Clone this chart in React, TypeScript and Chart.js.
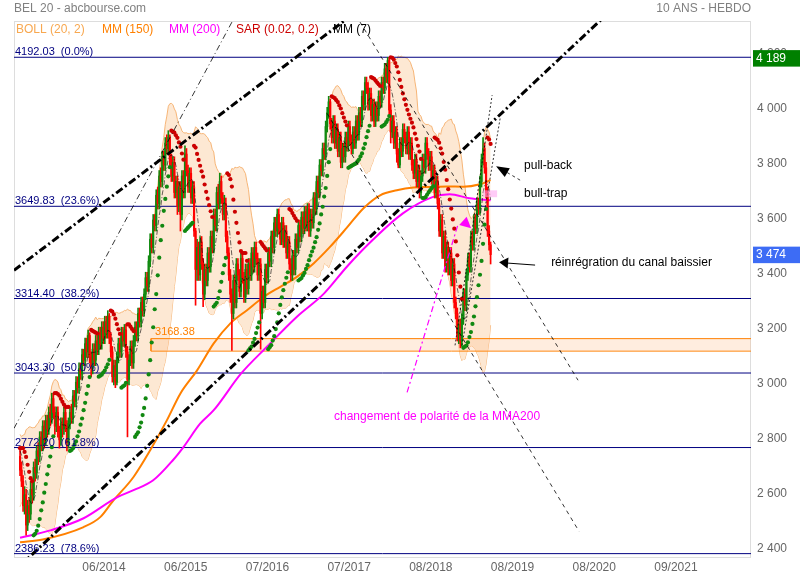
import React, { useEffect, useRef } from "react";
import { Chart, registerables } from "chart.js";
Chart.register(...registerables);

const FONT = '"Liberation Sans", Arial, Helvetica, sans-serif';

// ---- weekly data (index 0 = mid-May 2013) ----
const firstOpen = 2740;
const closesBefore = [2560, 2600, 2630, 2650, 2640, 2620, 2660, 2700, 2690, 2660, 2640, 2680, 2720, 2760, 2790, 2810, 2780, 2750, 2740];
const closes = [
  2690, 2650, 2560, 2600, 2490, 2560, 2530, 2620, 2600, 2700,
  2680, 2760, 2740, 2810, 2780, 2850, 2800, 2870, 2840, 2900,
  2880, 2950, 2900, 2850, 2900, 2830, 2800, 2860, 2840, 2900,
  2850, 2790, 2860, 2900, 2880, 2960, 2940, 3010, 2990, 3060,
  3040, 3110, 3090, 3150, 3120, 3180, 3100, 3060, 3130, 3090,
  3160, 3130, 3190, 3150, 3210, 3170, 3230, 3190, 3250, 3170,
  3120, 3030, 3070, 3010, 3100, 3150, 3120, 3190, 3160, 3200,
  3120, 3020, 3090, 3140, 3080, 3160, 3210, 3180, 3260, 3230,
  3300, 3270, 3330, 3390, 3360, 3450, 3530, 3500, 3600, 3580,
  3690, 3660, 3760, 3740, 3830, 3800, 3880, 3860, 3900, 3820,
  3760, 3810, 3700, 3740, 3650, 3720, 3620, 3760, 3700, 3840,
  3780, 3720, 3770, 3680, 3720, 3560, 3420, 3500, 3400, 3520,
  3440, 3330, 3420, 3380, 3480, 3430, 3540, 3500, 3620, 3580,
  3700, 3660, 3740, 3680, 3620, 3660, 3540, 3480, 3400, 3330,
  3260, 3380, 3300, 3440, 3400, 3340, 3460, 3390, 3320, 3420,
  3350, 3440, 3400, 3480, 3430, 3500, 3460, 3400, 3440, 3260,
  3340, 3300, 3420, 3390, 3480, 3450, 3540, 3500, 3590, 3560,
  3620, 3570, 3530, 3590, 3520, 3560, 3480, 3520, 3440, 3400,
  3470, 3420, 3530, 3500, 3580, 3540, 3610, 3570, 3630, 3580,
  3640, 3560, 3620, 3590, 3680, 3640, 3740, 3700, 3800, 3780,
  3860, 3840, 3940, 3990, 4030, 3950, 3900, 3960, 3880, 3930,
  3850, 3900, 3810, 3860, 3830, 3900, 3870, 3940, 3890, 3860,
  3920, 3880, 3960, 3910, 3990, 3960, 4050, 4020, 4100, 4080,
  4020, 4060, 3980, 4020, 3960, 4010, 3980, 4050, 4030, 4100,
  4080, 4150, 4120, 4180, 4000, 3920, 3960, 3880, 3920, 3840,
  3800, 3880, 3850, 3930, 3900, 3860, 3920, 3840, 3880, 3800,
  3770, 3820, 3740, 3780, 3700, 3760, 3820, 3790, 3880, 3840,
  3800, 3830, 3750, 3780, 3700, 3740, 3660, 3560, 3600, 3480,
  3540, 3430, 3500, 3420, 3480, 3380, 3440, 3300, 3260, 3180,
  3220, 3160, 3240, 3330, 3290, 3400, 3460, 3430, 3540, 3510,
  3600, 3570, 3660, 3640, 3740, 3820, 3860, 3790, 3700, 3560,
  3510, 3474,
];
const highs = [
  2770, 2720, 2670, 2630, 2620, 2580, 2590, 2650, 2650, 2720,
  2730, 2780, 2790, 2830, 2830, 2870, 2870, 2890, 2890, 2920,
  2930, 2970, 2970, 2920, 2920, 2920, 2850, 2880, 2880, 2920,
  2920, 2870, 2880, 2920, 2930, 2980, 2980, 3030, 3030, 3080,
  3080, 3130, 3130, 3170, 3170, 3200, 3190, 3120, 3150, 3150,
  3180, 3180, 3210, 3210, 3230, 3230, 3250, 3250, 3270, 3260,
  3190, 3140, 3090, 3090, 3120, 3170, 3170, 3210, 3210, 3220,
  3220, 3140, 3110, 3160, 3160, 3180, 3230, 3230, 3280, 3280,
  3320, 3320, 3350, 3410, 3410, 3470, 3550, 3550, 3620, 3620,
  3710, 3720, 3780, 3790, 3850, 3850, 3900, 3910, 3925, 3910,
  3840, 3830, 3830, 3760, 3760, 3740, 3740, 3780, 3780, 3870,
  3860, 3800, 3790, 3790, 3740, 3740, 3570, 3530, 3520, 3540,
  3540, 3460, 3440, 3440, 3500, 3500, 3560, 3560, 3640, 3640,
  3720, 3730, 3770, 3760, 3700, 3690, 3680, 3560, 3500, 3420,
  3350, 3400, 3400, 3460, 3460, 3420, 3480, 3480, 3410, 3440,
  3440, 3460, 3460, 3500, 3500, 3520, 3520, 3480, 3460, 3460,
  3360, 3360, 3440, 3440, 3500, 3500, 3560, 3560, 3610, 3610,
  3640, 3640, 3590, 3610, 3610, 3580, 3580, 3540, 3540, 3460,
  3490, 3490, 3550, 3550, 3600, 3600, 3630, 3630, 3650, 3650,
  3660, 3660, 3640, 3640, 3700, 3700, 3760, 3760, 3820, 3820,
  3880, 3880, 3960, 4010, 4050, 4040, 3970, 3980, 3980, 3950,
  3950, 3920, 3920, 3880, 3880, 3920, 3920, 3960, 3960, 3910,
  3940, 3940, 3980, 3980, 4010, 4010, 4070, 4070, 4120, 4120,
  4100, 4080, 4080, 4040, 4040, 4030, 4030, 4070, 4070, 4120,
  4120, 4170, 4170, 4192, 4190, 4020, 3980, 3980, 3940, 3940,
  3860, 3900, 3900, 3950, 3950, 3920, 3940, 3940, 3900, 3900,
  3820, 3840, 3840, 3800, 3800, 3780, 3840, 3840, 3900, 3900,
  3860, 3850, 3850, 3800, 3800, 3760, 3760, 3680, 3620, 3620,
  3560, 3560, 3520, 3520, 3500, 3500, 3460, 3460, 3320, 3280,
  3240, 3240, 3260, 3350, 3350, 3420, 3480, 3480, 3560, 3560,
  3620, 3620, 3680, 3680, 3760, 3840, 3900, 3880, 3810, 3720,
  3580, 3520,
];
const lows = [
  2670, 2630, 2540, 2530, 2453, 2470, 2500, 2510, 2570, 2580,
  2650, 2660, 2710, 2720, 2760, 2760, 2770, 2780, 2810, 2820,
  2850, 2860, 2880, 2820, 2830, 2810, 2770, 2780, 2810, 2820,
  2830, 2760, 2770, 2840, 2860, 2860, 2920, 2920, 2970, 2970,
  3020, 3020, 3070, 3070, 3100, 3100, 3080, 3030, 3040, 3070,
  3070, 3110, 3110, 3130, 3130, 3150, 3150, 3170, 3170, 3150,
  3100, 3010, 3000, 2990, 3000, 3080, 3100, 3100, 3140, 3140,
  3100, 2811, 3000, 3070, 3060, 3060, 3140, 3160, 3160, 3210,
  3210, 3250, 3250, 3310, 3340, 3340, 3430, 3480, 3480, 3560,
  3560, 3640, 3640, 3720, 3720, 3780, 3780, 3840, 3840, 3800,
  3740, 3740, 3680, 3680, 3620, 3630, 3560, 3600, 3680, 3680,
  3760, 3700, 3700, 3660, 3660, 3540, 3290, 3380, 3380, 3380,
  3420, 3285, 3310, 3360, 3360, 3410, 3410, 3480, 3480, 3560,
  3560, 3640, 3640, 3660, 3600, 3600, 3520, 3460, 3380, 3300,
  3126, 3240, 3280, 3280, 3380, 3320, 3320, 3370, 3300, 3300,
  3330, 3330, 3380, 3380, 3410, 3410, 3440, 3380, 3380, 3130,
  3240, 3280, 3280, 3370, 3370, 3430, 3430, 3480, 3480, 3540,
  3540, 3550, 3510, 3510, 3500, 3500, 3460, 3460, 3420, 3380,
  3380, 3400, 3400, 3480, 3480, 3520, 3520, 3550, 3550, 3560,
  3560, 3540, 3540, 3570, 3570, 3620, 3620, 3680, 3680, 3760,
  3760, 3820, 3820, 3920, 3970, 3930, 3880, 3880, 3860, 3860,
  3830, 3830, 3790, 3790, 3810, 3810, 3850, 3850, 3870, 3840,
  3840, 3860, 3860, 3890, 3890, 3940, 3940, 4000, 4000, 4060,
  4000, 4000, 3960, 3960, 3940, 3940, 3960, 3960, 4010, 4010,
  4060, 4060, 4100, 4100, 3980, 3880, 3900, 3860, 3860, 3810,
  3790, 3790, 3830, 3830, 3880, 3840, 3840, 3820, 3820, 3780,
  3750, 3750, 3720, 3720, 3680, 3680, 3740, 3770, 3770, 3820,
  3780, 3780, 3730, 3730, 3680, 3680, 3640, 3540, 3540, 3460,
  3460, 3410, 3410, 3400, 3400, 3360, 3360, 3280, 3240, 3160,
  3150, 3135, 3140, 3220, 3270, 3270, 3380, 3410, 3410, 3490,
  3490, 3550, 3550, 3620, 3620, 3720, 3800, 3770, 3680, 3540,
  3490, 3440,
];

// moving averages MM150 / MM200 (sparse)
const mm150Idx = [0, 15, 42, 53, 61, 75, 86, 97, 106, 117, 128, 139, 150, 161, 172, 183, 194, 205, 216, 227, 238, 249, 260, 271, 282, 293, 304, 311];
const mm150Val = [2428, 2438, 2483, 2519, 2575, 2665, 2762, 2871, 2969, 3053, 3151, 3224, 3272, 3320, 3357, 3393, 3442, 3503, 3572, 3643, 3690, 3708, 3718, 3720, 3722, 3721, 3730, 3745];
const mm200Idx = [0, 20, 42, 64, 75, 88, 101, 108, 119, 128, 146, 163, 183, 201, 216, 233, 253, 273, 284, 297, 311];
const mm200Val = [2444, 2471, 2515, 2591, 2617, 2653, 2726, 2774, 2859, 2908, 3041, 3138, 3248, 3333, 3430, 3527, 3624, 3684, 3694, 3679, 3672];

// Fibonacci levels
const fibLevels = [4192.03, 3649.83, 3314.4, 3043.3, 2772.2, 2386.23];
const fibLabels = ["4192.03  (0.0%)", "3649.83  (23.6%)", "3314.40  (38.2%)", "3043.30  (50.0%)", "2772.20  (61.8%)", "2386.23  (78.6%)"];

// axes
const yTickValues = [2400, 2600, 2800, 3000, 3200, 3400, 3600, 3800, 4000, 4200];
const yTickLabels = ["2 400", "2 600", "2 800", "3 000", "3 200", "3 400", "3 600", "3 800", "4 000", "4 200"];
const xTickPositions = [55.5, 109.5, 163.5, 217.5, 271.5, 325.5, 379.5, 433.5];
const xTickLabels = ["06/2014", "06/2015", "07/2016", "07/2017", "08/2018", "08/2019", "08/2020", "09/2021"];

// support zone
const zoneStart = 86.6;
const zoneTop = 3168.38;
const zoneBottom = 3123;

// drawn trend lines [x, value] pairs
const channelUpper = [[-4, 3417], [230, 4390]];
const channelLower = [[0, 2342], [386, 4339]];
const steepLine = [[-4, 2842], [141, 4330]];
const bearLine1 = [[224.7, 4320], [368.8, 3017]];
const bearLine2 = [[202.9, 3988], [369.5, 2467]];
const wedgeLine1 = [[287.5, 3144], [312, 4054]];
const wedgeLine2 = [[292.1, 3144], [317.3, 3970]];
const polarityLine = [[255.8, 2973], [289.5, 3585]];
const pullBackLine = [[330.5, 3745], [316, 3792]];
const reinLine = [[340.4, 3436], [318, 3445]];
const pullBackHead = [[330.5, 3745], [314.6, 3796]];
const reinHead = [[340.4, 3436], [316.6, 3446]];
const polarityHead = [[291.5, 3603], [298.1, 3570]];
const bullTrapBox = [[306, 3683], [315.3, 3708]];

const notes = [
  { text: "pull-back", x: 333.1, y: 3796, color: "#000000" },
  { text: "bull-trap", x: 333.1, y: 3697, color: "#000000" },
  { text: "réinrégration du canal baissier", x: 351, y: 3444, color: "#000000" },
  { text: "changement de polarité de la MMA200", x: 207.5, y: 2883, color: "#ff00ff" },
];
const zoneLabel = { text: "3168.38", x: 89.2, y: 3192 };
const lastValue = 3474;
const highValue = 4189;

const toPts = (arr: number[][]) => arr.map((p) => ({ x: p[0], y: p[1] }));

export default function App() {
  const ref = useRef<HTMLCanvasElement>(null);
  useEffect(() => {
    const canvas = ref.current!;
    const N = closes.length;
    const opens = closes.map((c, i) => (i === 0 ? firstOpen : closes[i - 1]));
    const all = closesBefore.concat(closes);
    const off = closesBefore.length;
    const bbUp: any[] = [], bbLo: any[] = [], mm7: any[] = [];
    for (let i = 0; i < N; i++) {
      const k = i + off;
      const w = all.slice(k - 19, k + 1);
      const m = w.reduce((a, b) => a + b, 0) / w.length;
      const sd = Math.sqrt(w.reduce((a, b) => a + (b - m) * (b - m), 0) / w.length);
      bbUp.push({ x: i, y: m + 2 * sd });
      bbLo.push({ x: i, y: m - 2 * sd });
      const w7 = all.slice(k - 6, k + 1);
      mm7.push({ x: i, y: w7.reduce((a, b) => a + b, 0) / 7 });
    }
    // Parabolic SAR (0.02, 0.2)
    const sarPts: any[] = [];
    const sarCol: string[] = [];
    let up = false;
    let af = 0.02;
    let ep = lows[0];
    let s = highs[0];
    sarPts.push({ x: 0, y: s });
    sarCol.push("#cc0000");
    for (let i = 1; i < N; i++) {
      s = s + af * (ep - s);
      if (up) {
        s = Math.min(s, lows[i - 1], lows[Math.max(0, i - 2)]);
        if (lows[i] < s) { up = false; s = ep; ep = lows[i]; af = 0.02; }
        else if (highs[i] > ep) { ep = highs[i]; af = Math.min(af + 0.02, 0.2); }
      } else {
        s = Math.max(s, highs[i - 1], highs[Math.max(0, i - 2)]);
        if (highs[i] > s) { up = true; s = ep; ep = highs[i]; af = 0.02; }
        else if (lows[i] < ep) { ep = lows[i]; af = Math.min(af + 0.02, 0.2); }
      }
      sarPts.push({ x: i, y: s });
      sarCol.push(up ? "#118811" : "#cc0000");
    }
    const candleCol = closes.map((c, i) => (c >= opens[i] ? "#108a10" : "#ff0000"));
    const wicks = closes.map((c, i) => ({ x: i, y: [Math.min(lows[i], opens[i], c), Math.max(highs[i], opens[i], c)] }));
    const bodies = closes.map((c, i) => ({ x: i, y: [opens[i], c === opens[i] ? c + 2 : c] }));

    const line = (data: any[], color: string, width: number, dash: number[], order: number, extra: any = {}) => ({
      type: "line", data, borderColor: color, borderWidth: width, borderDash: dash,
      pointRadius: 0, fill: false, tension: 0, order, ...extra,
    });

    const datasets: any[] = [
      line(bbUp, "#f6b577", 1, [], 100, { fill: "+1", backgroundColor: "#fde8d3" }),
      line(bbLo, "#f6b577", 1, [], 100),
      line([{ x: zoneStart, y: zoneTop }, { x: 600, y: zoneTop }], "#ff8000", 1, [], 95,
        { fill: { value: zoneBottom }, backgroundColor: "rgba(255,190,140,0.28)" }),
      line([{ x: zoneStart, y: zoneTop }, { x: zoneStart, y: zoneBottom }, { x: 600, y: zoneBottom }], "#ff8000", 1, [], 95),
      ...fibLevels.map((v) => line([{ x: -10, y: v }, { x: 600, y: v }], "#000080", 1, [], 90)),
      line(toPts(mm150Idx.map((x, k) => [x, mm150Val[k]])), "#ff8000", 2, [], 50, { cubicInterpolationMode: "monotone" }),
      line(toPts(mm200Idx.map((x, k) => [x, mm200Val[k]])), "#ff00ff", 2, [], 49, { cubicInterpolationMode: "monotone" }),
      {
        type: "bar", data: wicks, backgroundColor: candleCol, barThickness: 1, grouped: false,
        borderWidth: 0, order: 40,
      },
      {
        type: "bar", data: bodies, backgroundColor: candleCol, barThickness: 1.5, grouped: false,
        borderWidth: 0, order: 39,
      },
      line(mm7, "rgba(0,0,0,0.75)", 0.8, [5, 2, 1, 2], 30),
      {
        type: "line", data: sarPts, showLine: false, pointRadius: 2.1, pointBorderWidth: 0,
        pointBackgroundColor: sarCol, order: 20,
      },
      line(toPts(channelUpper), "#000000", 3, [8, 3, 2, 3], 10),
      line(toPts(channelLower), "#000000", 3, [8, 3, 2, 3], 10),
      line(toPts(steepLine), "#000000", 0.8, [6, 3, 1, 3], 10),
      line(toPts(bearLine1), "#000000", 0.8, [4, 4], 10),
      line(toPts(bearLine2), "#000000", 0.8, [4, 4], 10),
      line(toPts(wedgeLine1), "#000000", 0.8, [2, 2], 10),
      line(toPts(wedgeLine2), "#000000", 0.8, [2, 2], 10),
      line(toPts(polarityLine), "#ff00ff", 1.2, [6, 3, 2, 3], 8),
      line(toPts(pullBackLine), "#000000", 0.8, [3, 3], 8),
      line(toPts(reinLine), "#000000", 1, [], 8),
    ];

    const drawHead = (ctx: any, x: any, y: any, seg: number[][], color: string, L: number, W: number) => {
      const tx = x.getPixelForValue(seg[0][0]), ty = y.getPixelForValue(seg[0][1]);
      const px = x.getPixelForValue(seg[1][0]), py = y.getPixelForValue(seg[1][1]);
      const a = Math.atan2(py - ty, px - tx);
      const bx = px - L * Math.cos(a), by = py - L * Math.sin(a);
      const nx = -Math.sin(a) * W / 2, ny = Math.cos(a) * W / 2;
      ctx.fillStyle = color;
      ctx.beginPath();
      ctx.moveTo(px, py);
      ctx.lineTo(bx + nx, by + ny);
      ctx.lineTo(bx - nx, by - ny);
      ctx.closePath();
      ctx.fill();
    };

    const overlay = {
      id: "overlay",
      beforeDatasetsDraw(chart: any) {
        const { ctx, chartArea: a } = chart;
        ctx.save();
        ctx.strokeStyle = "#dddddd";
        ctx.lineWidth = 1;
        ctx.strokeRect(a.left + 0.5, a.top + 0.5, a.right - a.left - 1, a.bottom - a.top);
        ctx.restore();
      },
      afterDatasetsDraw(chart: any) {
        const { ctx, chartArea: a, scales } = chart;
        const x = scales.x, y = scales.y;
        ctx.save();
        const bx0 = x.getPixelForValue(bullTrapBox[0][0]), bx1 = x.getPixelForValue(bullTrapBox[1][0]);
        const by0 = y.getPixelForValue(bullTrapBox[1][1]), by1 = y.getPixelForValue(bullTrapBox[0][1]);
        ctx.fillStyle = "rgba(255,160,240,0.55)";
        ctx.fillRect(bx0, by0, bx1 - bx0, by1 - by0);
        drawHead(ctx, x, y, pullBackHead, "#000000", 13, 10);
        drawHead(ctx, x, y, reinHead, "#000000", 9, 11);
        drawHead(ctx, x, y, polarityHead, "#ff00ff", 11, 11);
        ctx.font = "11px " + FONT;
        ctx.fillStyle = "#000080";
        ctx.textBaseline = "alphabetic";
        ctx.textAlign = "left";
        fibLevels.forEach((v, k) => {
          ctx.fillText(fibLabels[k], a.left + 1, y.getPixelForValue(v) - 2);
        });
        ctx.fillStyle = "#ff8000";
        ctx.textBaseline = "middle";
        ctx.fillText(zoneLabel.text, x.getPixelForValue(zoneLabel.x), y.getPixelForValue(zoneLabel.y));
        ctx.font = "12px " + FONT;
        notes.forEach((n) => {
          ctx.fillStyle = n.color;
          ctx.fillText(n.text, x.getPixelForValue(n.x), y.getPixelForValue(n.y));
        });
        ctx.restore();
      },
      afterDraw(chart: any) {
        const { ctx, chartArea: a, scales } = chart;
        const y = scales.y;
        ctx.save();
        ctx.textBaseline = "middle";
        ctx.font = "12px " + FONT;
        ctx.fillStyle = "#808080";
        ctx.textAlign = "left";
        ctx.fillText("BEL 20 - abcbourse.com", 14, 9);
        ctx.textAlign = "right";
        ctx.fillText("10 ANS - HEBDO", a.right, 9);
        ctx.textAlign = "left";
        const legend = [
          ["BOLL (20, 2)", "#f8a850", 16],
          ["MM (150)", "#ff8000", 102],
          ["MM (200)", "#ff00ff", 169],
          ["SAR (0.02, 0.2)", "#cc0000", 236],
          ["MM (7)", "#000000", 333],
        ];
        legend.forEach(([t, c, px]) => {
          ctx.fillStyle = c as string;
          ctx.fillText(t as string, px as number, 29.5);
        });
        const boxes = [
          [highValue, "#008000", "4 189"],
          [lastValue, "#3d6cf5", "3 474"],
        ];
        boxes.forEach(([v, c, t]) => {
          const py = y.getPixelForValue(v as number);
          ctx.fillStyle = c as string;
          ctx.fillRect(a.right + 2, py - 8, 800 - a.right - 2, 16.5);
          ctx.fillStyle = "#ffffff";
          ctx.fillText(t as string, a.right + 5, py + 0.5);
        });
        ctx.restore();
      },
    };

    const chart = new Chart(canvas, {
      type: "line",
      data: { datasets },
      options: {
        responsive: false,
        animation: false,
        events: [],
        layout: { padding: { top: 21, left: 14, right: 0, bottom: 0 } },
        plugins: { legend: { display: false }, tooltip: { enabled: false }, title: { display: false } },
        scales: {
          x: {
            type: "linear",
            min: -4,
            max: 483.1,
            offset: false,
            grid: { display: false, drawTicks: false, offset: false },
            border: { display: false },
            afterBuildTicks: (s: any) => { s.ticks = xTickPositions.map((v) => ({ value: v })); },
            afterFit: (s: any) => { s.height = 23; },
            ticks: {
              autoSkip: false, maxRotation: 0, padding: 3, color: "#666666",
              font: { family: FONT, size: 12 },
              callback: (v: any) => xTickLabels[xTickPositions.indexOf(v)] ?? "",
            },
          },
          y: {
            type: "linear",
            position: "right",
            min: 2374,
            max: 4324,
            grid: { display: false, drawTicks: false },
            border: { display: false },
            afterBuildTicks: (s: any) => { s.ticks = yTickValues.map((v) => ({ value: v })); },
            afterFit: (s: any) => { s.width = 49; },
            ticks: {
              padding: 6, labelOffset: -1, color: "#666666",
              font: { family: FONT, size: 12 },
              callback: (v: any) => yTickLabels[yTickValues.indexOf(v)] ?? "",
            },
          },
        },
      } as any,
      plugins: [overlay],
    } as any);
    return () => chart.destroy();
  }, []);

  return (
    <div style={{ position: "absolute", left: 0, top: 0, width: 800, height: 580, background: "#ffffff" }}>
      <canvas ref={ref} width={800} height={580} style={{ width: 800, height: 580, display: "block" }} />
    </div>
  );
}
